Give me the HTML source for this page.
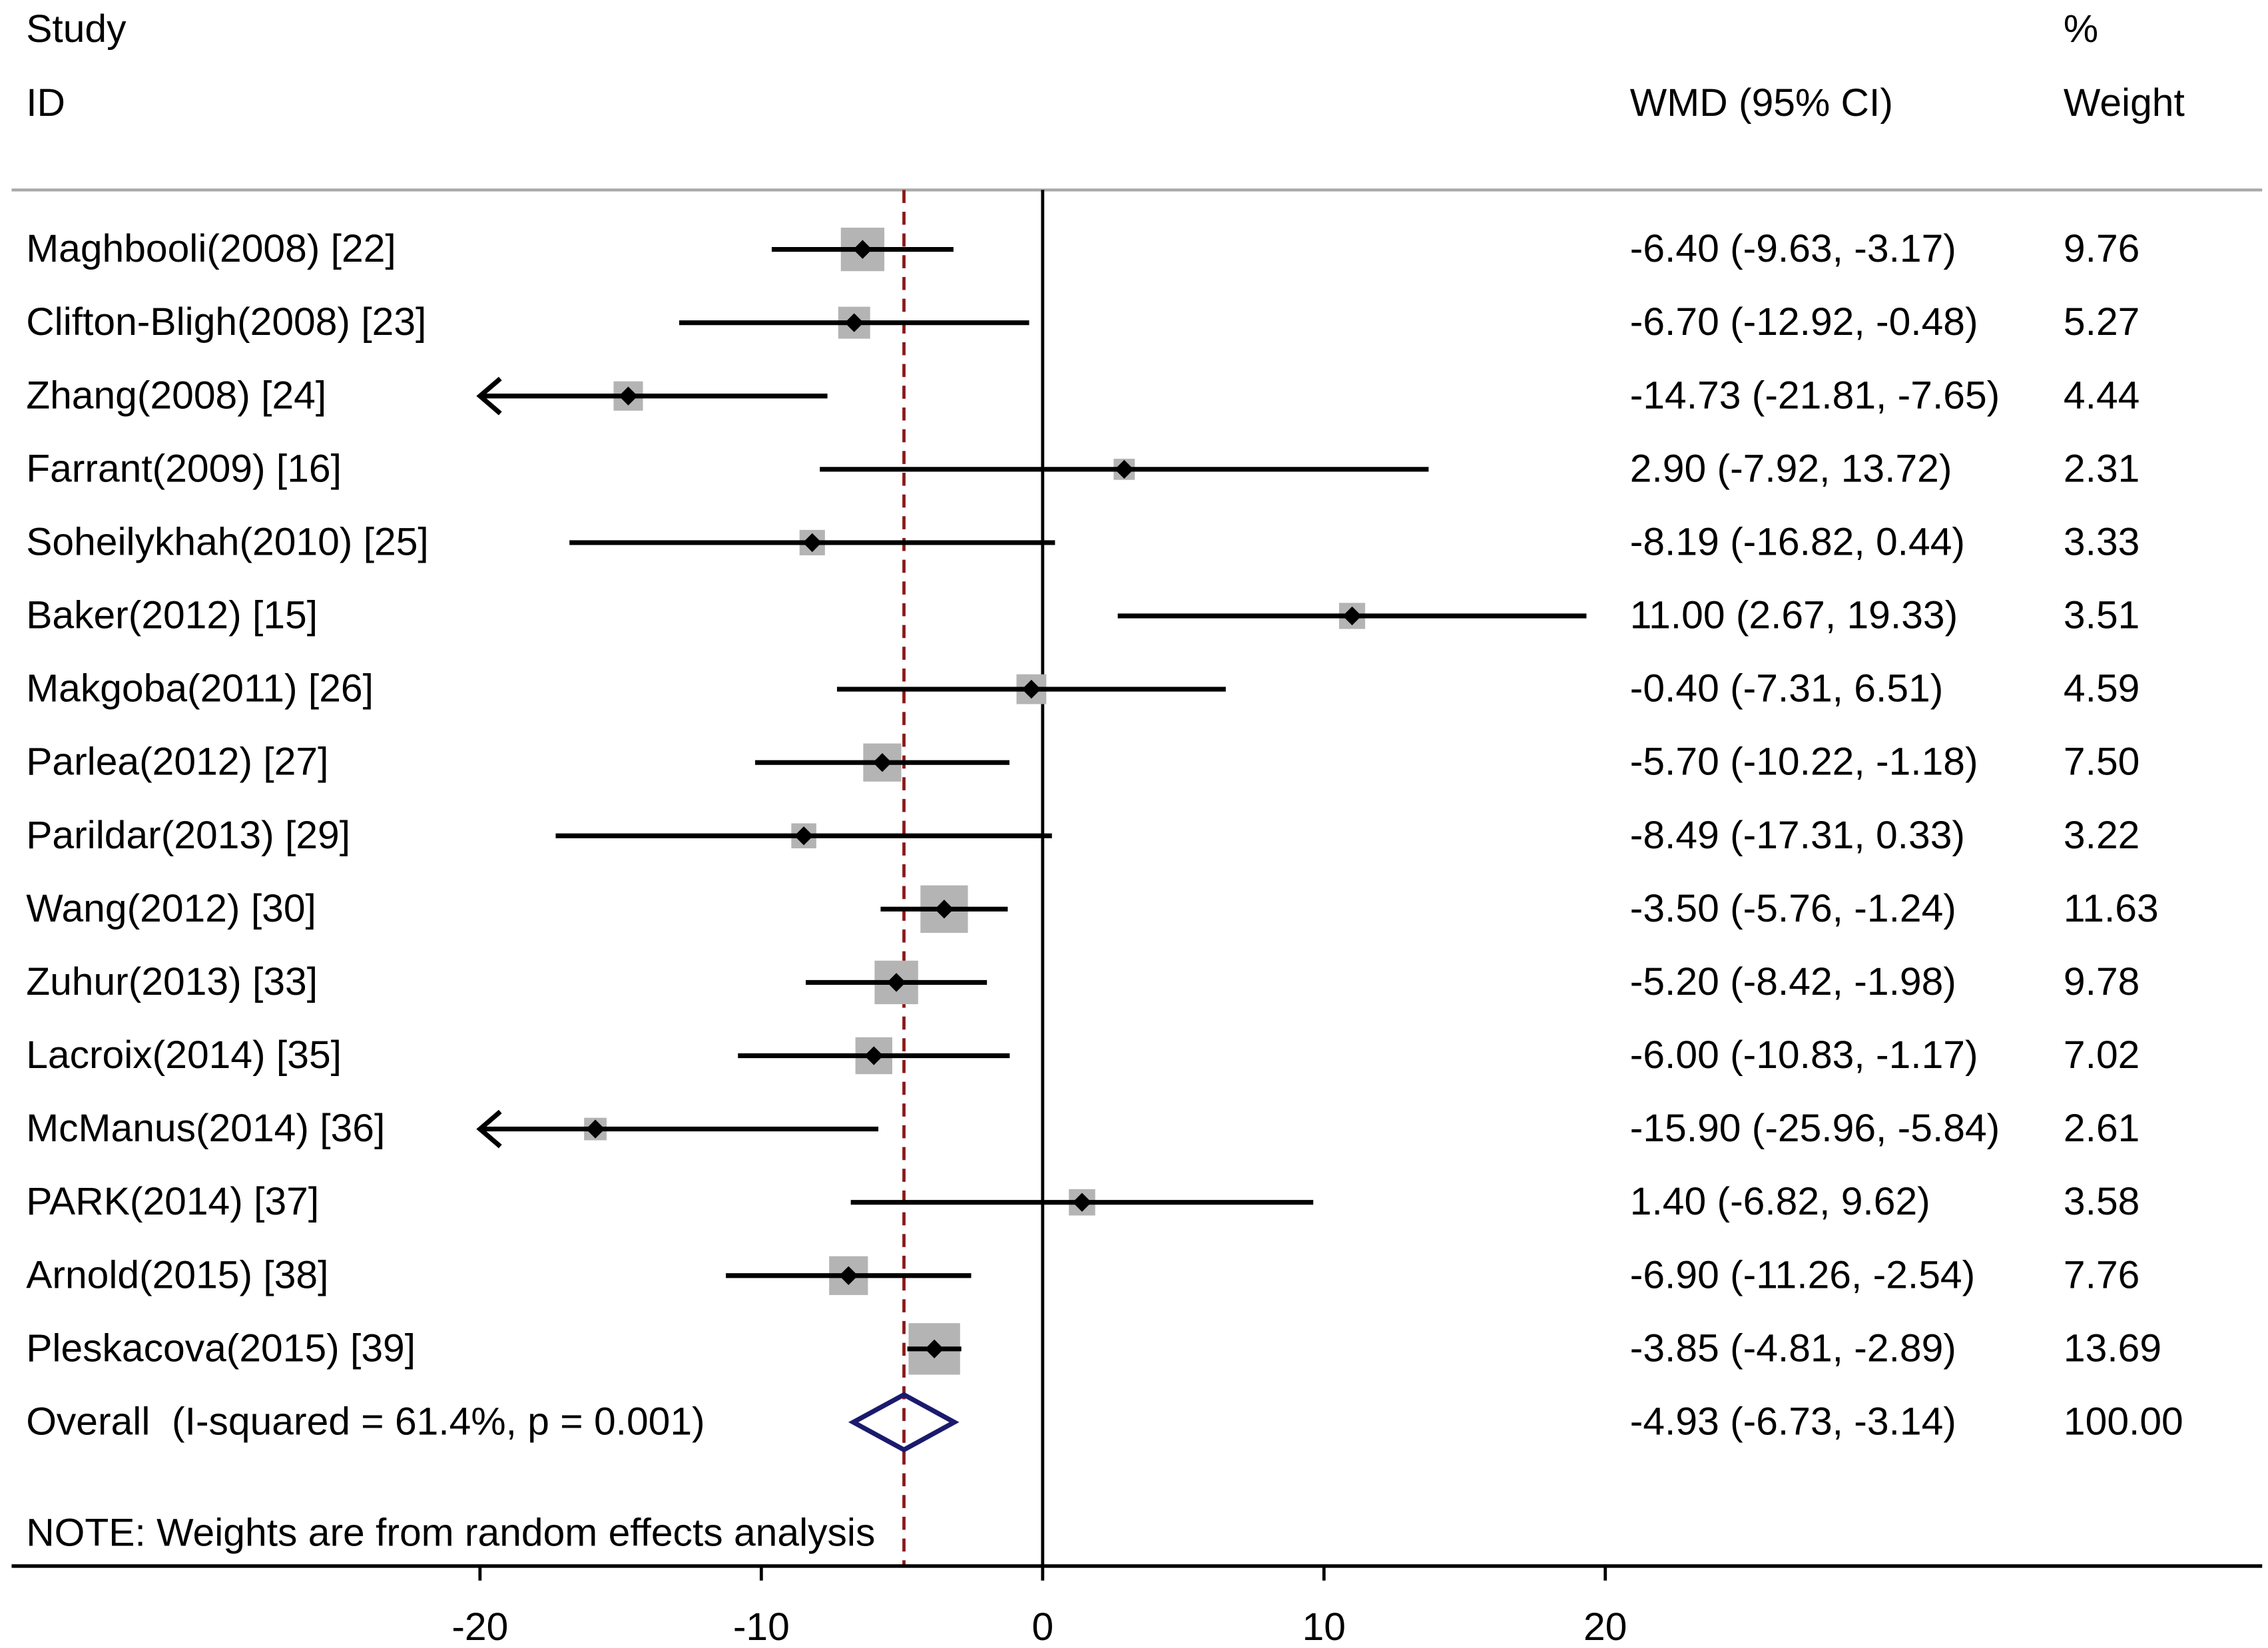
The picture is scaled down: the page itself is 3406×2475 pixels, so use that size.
<!DOCTYPE html>
<html><head><meta charset="utf-8"><style>
html,body{margin:0;padding:0;background:#fff;}
svg{display:block;font-family:"Liberation Sans",Arial,sans-serif;}
</style></head><body>
<svg id="chart" width="3406" height="2475" viewBox="0 0 1564 1136.5" xmlns="http://www.w3.org/2000/svg">
<text x="18" y="29" font-size="27">Study</text>
<text x="18" y="80" font-size="27">ID</text>
<text x="1124" y="80" font-size="27">WMD (95% CI)</text>
<text x="1423" y="29" font-size="27">%</text>
<text x="1423" y="80" font-size="27">Weight</text>
<line x1="8" y1="131" x2="1560" y2="131" stroke="#aaa" stroke-width="2"/>
<g id="marks"></g>
<line x1="8" y1="1080" x2="1560" y2="1080" stroke="#000" stroke-width="2.5"/>
<text x="18" y="1066" font-size="27">NOTE: Weights are from random effects analysis</text>
</svg>
<script>
const studies=["Maghbooli(2008) [22]","Clifton-Bligh(2008) [23]","Zhang(2008) [24]","Farrant(2009) [16]","Soheilykhah(2010) [25]","Baker(2012) [15]","Makgoba(2011) [26]","Parlea(2012) [27]","Parildar(2013) [29]","Wang(2012) [30]","Zuhur(2013) [33]","Lacroix(2014) [35]","McManus(2014) [36]","PARK(2014) [37]","Arnold(2015) [38]","Pleskacova(2015) [39]"];
const est=[-6.40,-6.70,-14.73,2.90,-8.19,11.00,-0.40,-5.70,-8.49,-3.50,-5.20,-6.00,-15.90,1.40,-6.90,-3.85];
const lo=[-9.63,-12.92,-21.81,-7.92,-16.82,2.67,-7.31,-10.22,-17.31,-5.76,-8.42,-10.83,-25.96,-6.82,-11.26,-4.81];
const hi=[-3.17,-0.48,-7.65,13.72,0.44,19.33,6.51,-1.18,0.33,-1.24,-1.98,-1.17,-5.84,9.62,-2.54,-2.89];
const weights=[9.76,5.27,4.44,2.31,3.33,3.51,4.59,7.50,3.22,11.63,9.78,7.02,2.61,3.58,7.76,13.69];
const overall=[-4.93,-6.73,-3.14];
const overallLabel="Overall\u00a0\u00a0(I-squared = 61.4%, p = 0.001)";
const ticks=[-20,-10,0,10,20];
const xMin=-20, xMax=20;
const X=v=>719+v*19.4;
const Y=i=>172+i*50.55;
const FS=27;
const NS="http://www.w3.org/2000/svg";
const g=document.getElementById('marks');
function mk(t,a,p){const e=document.createElementNS(NS,t);for(const k in a)e.setAttribute(k,a[k]);(p||g).appendChild(e);return e;}
const fmt=v=>v.toFixed(2);
let l=mk('line',{x1:X(0),y1:131,x2:X(0),y2:1080,stroke:'#000','stroke-width':2.2});


l=mk('line',{x1:X(overall[0]),y1:131,x2:X(overall[0]),y2:1080,stroke:'#8b1a1a','stroke-width':2.2,'stroke-dasharray':'9,6'});


studies.forEach((s,i)=>{
  const y=Y(i);
  let t=mk('text',{x:18,y:y+8.5,'font-size':FS});t.textContent=s;
  
  
  t=mk('text',{x:1124,y:y+8.5,'font-size':FS});t.textContent=fmt(est[i])+" ("+fmt(lo[i])+", "+fmt(hi[i])+")";
  
  
  t=mk('text',{x:1423,y:y+8.5,'font-size':FS});t.textContent=fmt(weights[i]);
  
  
  const side=9.6*Math.sqrt(weights[i]);
  const b=mk('rect',{x:X(est[i])-side/2,y:y-side/2,width:side,height:side,fill:'#b4b4b4'});
  
  
  const a=Math.max(lo[i],xMin),c=Math.min(hi[i],xMax);
  const ln=mk('line',{x1:X(a),y1:y,x2:X(c),y2:y,stroke:'#000','stroke-width':3.3});
  
  
  if(lo[i]<xMin){
    const ar=mk('polyline',{points:(X(xMin)+14)+","+(y-12)+" "+X(xMin)+","+y+" "+(X(xMin)+14)+","+(y+12),fill:'none',stroke:'#000','stroke-width':3.3});
    
    
  }
  const d=mk('polygon',{points:[[X(est[i]),y-6.5],[X(est[i])+6.5,y],[X(est[i]),y+6.5],[X(est[i])-6.5,y]].map(p=>p.join(',')).join(' '),fill:'#000'});
  
  
});
const yo=Y(studies.length);
let t=mk('text',{x:18,y:yo+8.5,'font-size':FS});t.textContent=overallLabel;


t=mk('text',{x:1124,y:yo+8.5,'font-size':FS});t.textContent=fmt(overall[0])+" ("+fmt(overall[1])+", "+fmt(overall[2])+")";


t=mk('text',{x:1423,y:yo+8.5,'font-size':FS});t.textContent="100.00";


const dm=mk('polygon',{points:[[X(overall[1]),yo],[X(overall[0]),yo-19],[X(overall[2]),yo],[X(overall[0]),yo+19]].map(p=>p.join(',')).join(' '),fill:'none',stroke:'#1a1a6e','stroke-width':3.3});


ticks.forEach(v=>{
  const tk=mk('line',{x1:X(v),y1:1080,x2:X(v),y2:1090,stroke:'#000','stroke-width':2.2});
  
  
  const tl=mk('text',{x:X(v),y:1131,'font-size':FS,'text-anchor':'middle'});tl.textContent=String(v);
  
  
});
</script>
</body></html>
